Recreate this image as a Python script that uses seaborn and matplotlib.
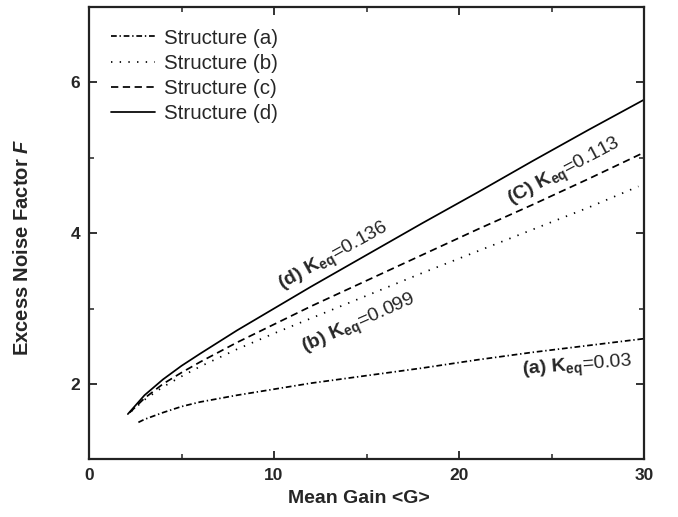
import numpy as np
import pandas as pd
import matplotlib
matplotlib.use("Agg")
import matplotlib.pyplot as plt
from matplotlib.ticker import MultipleLocator
import seaborn as sns

# ---- data ----
gain_a = [2.67, 3, 4, 5, 6, 8, 10, 12, 15, 18, 21, 24, 27, 30]
noise_a = [1.49, 1.53, 1.62, 1.70, 1.76, 1.85, 1.93, 2.01, 2.11, 2.21, 2.32, 2.42, 2.51, 2.60]

gain_b = [2.3, 3, 4, 5, 6, 8, 10, 12, 15, 18, 21, 24, 27, 29.7]
noise_b = [1.64, 1.79, 1.96, 2.10, 2.23, 2.46, 2.67, 2.87, 3.17, 3.47, 3.76, 4.05, 4.34, 4.62]

gain_c = [2.2, 3, 4, 5, 6, 8, 10, 12, 15, 18, 21, 24, 27, 30]
noise_c = [1.62, 1.81, 2.00, 2.15, 2.29, 2.55, 2.79, 3.03, 3.37, 3.71, 4.05, 4.38, 4.72, 5.07]

gain_d = [2.1, 3, 4, 5, 6, 8, 10, 12, 15, 18, 21, 24, 27, 30]
noise_d = [1.60, 1.85, 2.06, 2.24, 2.40, 2.71, 3.00, 3.29, 3.71, 4.13, 4.54, 4.96, 5.37, 5.77]

series_names = ["Structure (a)", "Structure (b)", "Structure (c)", "Structure (d)"]
annotations = [r"$\mathbf{(d)\ K_{eq}}$=0.136", r"$\mathbf{(C)\ K_{eq}}$=0.113",
               r"$\mathbf{(b)\ K_{eq}}$=0.099", r"$\mathbf{(a)\ K_{eq}}$=0.03"]

df = pd.concat([
    pd.DataFrame({"G": gain_a, "F": noise_a, "Structure": series_names[0]}),
    pd.DataFrame({"G": gain_b, "F": noise_b, "Structure": series_names[1]}),
    pd.DataFrame({"G": gain_c, "F": noise_c, "Structure": series_names[2]}),
    pd.DataFrame({"G": gain_d, "F": noise_d, "Structure": series_names[3]}),
], ignore_index=True)

sns.set_theme(style="ticks")
plt.rcParams["font.family"] = ["Liberation Sans", "DejaVu Sans"]
plt.rcParams["mathtext.fontset"] = "custom"
plt.rcParams["mathtext.rm"] = "Liberation Sans"
plt.rcParams["mathtext.bf"] = "Liberation Sans:bold"
plt.rcParams["mathtext.it"] = "Liberation Sans:bold:italic"

fig = plt.figure(figsize=(6.78, 5.17), dpi=100)
ax = fig.add_axes([89 / 678, 1 - 459.3 / 517, (644 - 89) / 678, (459.3 - 7) / 517])

palette = {n: "black" for n in series_names}
dashes = {
    series_names[0]: (3.3, 1.6, 0.8, 1.6),
    series_names[1]: (0.8, 4.2),
    series_names[2]: (4.2, 2.6),
    series_names[3]: "",
}
sns.lineplot(data=df, x="G", y="F", hue="Structure", style="Structure",
             palette=palette, dashes=dashes, linewidth=1.25, ax=ax, sort=False)

ax.set_xlim(0, 30)
ax.set_ylim(1, 7)
ax.xaxis.set_major_locator(MultipleLocator(10))
ax.xaxis.set_minor_locator(MultipleLocator(5))
ax.yaxis.set_major_locator(MultipleLocator(2))
ax.yaxis.set_minor_locator(MultipleLocator(1))
ax.tick_params(which="both", direction="in", top=True, right=True, color="#222222")
ax.tick_params(which="major", length=6, width=1.3, labelsize=12.5, pad=6.5)
ax.tick_params(which="minor", length=3.5, width=1.1)
for lab in ax.get_xticklabels() + ax.get_yticklabels():
    lab.set_fontweight("bold")
for sp in ax.spines.values():
    sp.set_linewidth(1.6)
    sp.set_color("#222222")

ax.set_xlabel("Mean Gain <G>", fontsize=14, fontweight="bold")
ax.set_ylabel("Excess Noise Factor $F$", fontsize=14.5, fontweight="bold")
ax.xaxis.set_label_coords(0.487, -0.068)
ax.yaxis.set_label_coords(-0.103, 0.468)

# curve annotations
ax.text(10.43, 3.25, annotations[0], rotation=29, rotation_mode="anchor",
        ha="left", va="baseline", fontsize=14)
ax.text(22.85, 4.376, annotations[1], rotation=28, rotation_mode="anchor",
        ha="left", va="baseline", fontsize=14)
ax.text(11.68, 2.42, annotations[2], rotation=24, rotation_mode="anchor",
        ha="left", va="baseline", fontsize=14)
ax.text(23.4, 2.12, annotations[3], rotation=4.5, rotation_mode="anchor",
        ha="left", va="baseline", fontsize=14)

leg = ax.get_legend()
handles = list(leg.legend_handles)
labels = [t.get_text() for t in leg.get_texts()]
pairs = [(h, l) for h, l in zip(handles, labels) if l in series_names]
ax.legend([p[0] for p in pairs], [p[1] for p in pairs], loc="upper left",
          frameon=False, fontsize=14.8, handlelength=2.15, handletextpad=0.45,
          labelspacing=0.3, borderaxespad=0.65, borderpad=0.4)

fig.savefig("out.png", dpi=100)
